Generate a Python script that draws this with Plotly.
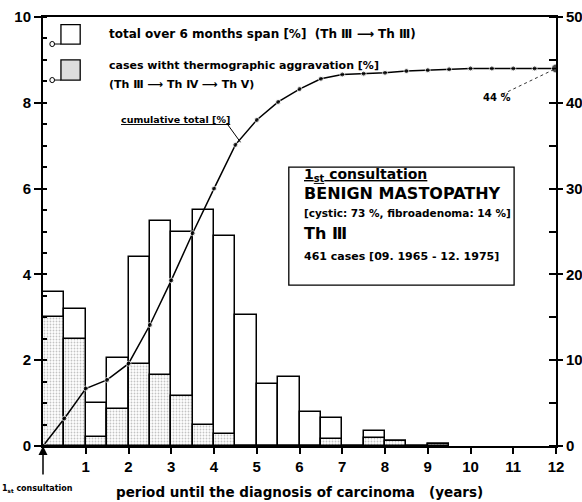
import plotly.graph_objects as go

# half-year bins (start of bin, years after 1st consultation)
bin_start = [0, 0.5, 1, 1.5, 2, 2.5, 3, 3.5, 4, 4.5, 5, 5.5, 6, 6.5, 7, 7.5, 8, 8.5, 9]
total_pct = [3.6, 3.2, 1.0, 2.05, 4.4, 5.25, 5.0, 5.5, 4.9, 3.05, 1.45, 1.6, 0.8, 0.65,
             0.0, 0.35, 0.12, 0.0, 0.05]
aggr_pct = [3.0, 2.5, 0.2, 0.87, 1.9, 1.65, 1.17, 0.5, 0.27, 0.0, 0.0, 0.0, 0.0, 0.17,
            0.0, 0.18, 0.12, 0.0, 0.05]

cum_years = [0, 0.5, 1, 1.5, 2, 2.5, 3, 3.5, 4, 4.5, 5, 5.5, 6, 6.5, 7, 7.5, 8, 8.5,
             9, 9.5, 10, 10.5, 11, 11.5, 12]
cum_pct = [0, 3.2, 6.7, 7.7, 9.6, 14.1, 19.3, 24.8, 30.0, 35.1, 38.0, 40.1, 41.6, 42.8,
           43.3, 43.4, 43.5, 43.7, 43.8, 43.9, 44.0, 44.0, 44.0, 44.0, 44.0]

x_ticks = list(range(0, 13))
x_ticktext = [""] + [str(v) for v in range(1, 13)]

FONT = "DejaVu Sans"
bar_x = [b + 0.25 for b in bin_start]

fig = go.Figure()
fig.add_trace(go.Bar(
    x=bar_x, y=total_pct, width=0.5,
    marker=dict(color="white", line=dict(color="black", width=1.5)),
    showlegend=False, hoverinfo="skip"
))
fig.add_trace(go.Bar(
    x=bar_x, y=aggr_pct, width=0.5,
    marker=dict(color="white", line=dict(color="black", width=1.5),
                pattern=dict(shape=".", fgcolor="#888", bgcolor="white",
                             size=3, solidity=0.3)),
    showlegend=False, hoverinfo="skip"
))
fig.add_trace(go.Scatter(
    x=cum_years, y=cum_pct, yaxis="y2", mode="lines+markers",
    line=dict(color="black", width=1.5),
    marker=dict(color="black", size=[5] * 24 + [9]),
    showlegend=False, hoverinfo="skip"
))

shapes = []
# legend boxes
shapes.append(dict(type="rect", xref="x", yref="y", x0=0.42, x1=0.87, y0=9.37, y1=9.82,
                   line=dict(color="black", width=1.3), fillcolor="white"))
shapes.append(dict(type="rect", xref="x", yref="y", x0=0.42, x1=0.87, y0=8.53, y1=9.0,
                   line=dict(color="black", width=1.3), fillcolor="#ddd"))
for yy in [9.37, 8.53]:
    shapes.append(dict(type="circle", xref="x", yref="y", x0=0.16, x1=0.27,
                       y0=yy - 0.06, y1=yy + 0.06, line=dict(color="black", width=1)))
    shapes.append(dict(type="line", xref="x", yref="y", x0=0.27, x1=0.42, y0=yy, y1=yy,
                       line=dict(color="black", width=1)))
# info box
shapes.append(dict(type="rect", xref="x", yref="y", x0=5.75, x1=11.02, y0=3.75, y1=6.5,
                   line=dict(color="black", width=1.3), fillcolor="white", layer="above"))
# leader lines
shapes.append(dict(type="line", xref="x", yref="y2", x0=4.3, y0=37.6, x1=4.62, y1=35.4,
                   line=dict(color="black", width=1)))
shapes.append(dict(type="line", xref="x", yref="y2", x0=10.75, y0=41.0, x1=12, y1=44,
                   line=dict(color="black", width=0.8, dash="dot")))

small = dict(family=FONT, size=11, color="black", weight="bold")
info = dict(family=FONT, size=10.5, color="black", weight="bold")
big = dict(family=FONT, size=16, color="black", weight="bold")
annotations = [
    dict(x=1.5, y=9.6, xref="x", yref="y", xanchor="left", showarrow=False,
         text="total over 6 months span [%]  (Th Ⅲ ⟶ Th Ⅲ)",
         font=dict(family=FONT, size=12, weight="bold")),
    dict(x=1.5, y=8.86, xref="x", yref="y", xanchor="left", showarrow=False,
         text="cases witht thermographic aggravation [%]", font=small),
    dict(x=1.5, y=8.42, xref="x", yref="y", xanchor="left", showarrow=False,
         text="(Th Ⅲ ⟶ Th Ⅳ ⟶ Th Ⅴ)", font=small),
    dict(x=1.78, y=7.62, xref="x", yref="y", xanchor="left", showarrow=False,
         text="<u>cumulative total [%]</u>", font=dict(family=FONT, size=9.5, weight="bold")),
    dict(x=10.25, y=40.6, xref="x", yref="y2", xanchor="left", showarrow=False,
         text="44 %", font=dict(family=FONT, size=10, weight="bold")),
    dict(x=6.05, y=6.32, xref="x", yref="y", xanchor="left", showarrow=False,
         text="<u>1<sub>st</sub> consultation</u>", font=dict(family=FONT, size=14, weight="bold")),
    dict(x=6.05, y=5.88, xref="x", yref="y", xanchor="left", showarrow=False,
         text="BENIGN MASTOPATHY", font=big),
    dict(x=6.05, y=5.43, xref="x", yref="y", xanchor="left", showarrow=False,
         text="[cystic: 73 %, fibroadenoma: 14 %]", font=info),
    dict(x=6.05, y=4.96, xref="x", yref="y", xanchor="left", showarrow=False,
         text="Th Ⅲ", font=big),
    dict(x=6.05, y=4.42, xref="x", yref="y", xanchor="left", showarrow=False,
         text="461 cases [09. 1965 - 12. 1975]", font=dict(family=FONT, size=11, weight="bold")),
    # arrow for first consultation
    dict(x=0, y=0, xref="x", yref="y", showarrow=True, ax=0, ay=30, text="",
         arrowhead=2, arrowsize=1.2, arrowwidth=1.5, arrowcolor="black"),
    dict(x=-0.01, y=-0.1, xref="paper", yref="paper", xanchor="center", yanchor="middle",
         showarrow=False, text="1<sub>st</sub> consultation",
         font=dict(family=FONT, size=8, weight="bold")),
    dict(x=0.5, y=-0.108, xref="paper", yref="paper", xanchor="center", yanchor="middle",
         showarrow=False, text="period until the diagnosis of carcinoma   (years)",
         font=dict(family=FONT, size=13.5, weight="bold")),
]

tickfont = dict(family="Liberation Sans", size=15, color="black", weight="bold")
fig.update_layout(
    width=582, height=502,
    margin=dict(l=43, r=26, t=17, b=56, autoexpand=False),
    paper_bgcolor="white", plot_bgcolor="white",
    font=dict(family=FONT, color="black"),
    barmode="overlay", bargap=0,
    shapes=shapes, annotations=annotations,
    xaxis=dict(range=[0, 12], tickvals=x_ticks, ticktext=x_ticktext, automargin=False,
               ticks="outside", ticklen=6, tickwidth=1.5, tickcolor="black",
               showline=True, linecolor="black", linewidth=2, mirror=True,
               showgrid=False, zeroline=False, tickfont=tickfont),
    yaxis=dict(range=[0, 10], dtick=2, ticks="outside", ticklen=7, tickwidth=1.5,
               tickcolor="black", showline=True, linecolor="black", linewidth=2,
               minor=dict(dtick=0.5, ticks="inside", ticklen=4, tickcolor="black"),
               showgrid=False, zeroline=False, tickfont=tickfont, automargin=False),
    yaxis2=dict(range=[0, 50], dtick=10, overlaying="y", side="right",
                ticks="outside", ticklen=5, tickwidth=1.5, tickcolor="black",
                showline=True, linecolor="black", linewidth=2,
                minor=dict(dtick=5, ticks="inside", ticklen=7, tickcolor="black"),
                showgrid=False, zeroline=False, tickfont=tickfont, automargin=False),
)

# drop the default 8px page margin so the figure fills the window exactly
fig.write_html("out.html", config=dict(displayModeBar=False),
               post_script="document.body.style.margin='0';document.body.style.overflow='hidden';")
